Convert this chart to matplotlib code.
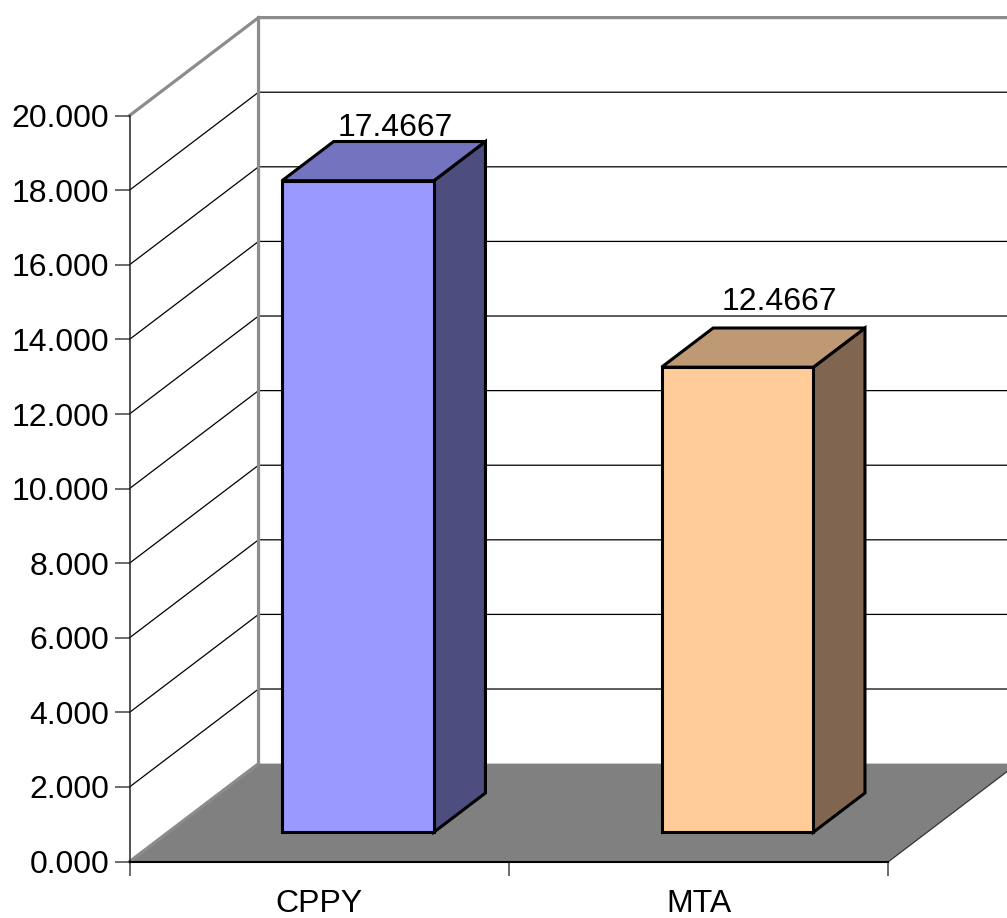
import matplotlib
matplotlib.use('Agg')
import matplotlib.pyplot as plt
from matplotlib.patches import Polygon

plt.rcParams['font.family'] = ['Liberation Sans', 'DejaVu Sans']

# Valores do grafico
categories = ['CPPY', 'MTA']
values = [17.4667, 12.4667]
value_labels = ['17.4667', '12.4667']
y_ticks = [0, 2, 4, 6, 8, 10, 12, 14, 16, 18, 20]

# Cores de cada barra: frente, topo, lado
front_colors = ['#9999FF', '#FFCC99']
top_colors = ['#7373BF', '#BF9973']
side_colors = ['#4D4D80', '#806650']

# Deslocamento obliquo da profundidade, em unidades dos eixos
depth_x = 0.34
depth_y = 2.627
bar_width = 0.4
bar_gap = 0.3
z_front = 0.3
z_back = 0.7
label_lift = [0.15, 0.47]
label_shift = [-0.037, -0.026]

WIDTH, HEIGHT = 1007, 918
x_origin = 129.5
y_origin = 861.6
px_x = 379.5
px_y = 37.3
FONT = 23.0


def project(x, y, z):
    return x + z * depth_x, y + z * depth_y


fig = plt.figure(figsize=(WIDTH / 100, HEIGHT / 100), dpi=100)
ax = fig.add_axes([0, 0, 1, 1])
ax.set_xlim(-x_origin / px_x, (WIDTH - x_origin) / px_x)
ax.set_ylim(-(HEIGHT - y_origin) / px_y, y_origin / px_y)
ax.patch.set_visible(False)

# Chao cinzento
n = len(categories)
floor = [project(0, 0, 0), project(n, 0, 0), project(n, 0, 1), project(0, 0, 1)]
ax.add_patch(Polygon(floor, closed=True, facecolor='#808080', edgecolor='none', zorder=1))
ax.plot([project(n, 0, 0)[0], project(n, 0, 1)[0]],
        [project(n, 0, 0)[1], project(n, 0, 1)[1]], color='#333333', lw=0.9, zorder=1.1)

# Linhas de grelha na parede lateral e na parede do fundo
for t in y_ticks[1:-1]:
    x0, y0 = project(0, t, 0)
    x1, y1 = project(0, t, 1)
    x2, y2 = project(n, t, 1)
    ax.plot([x0, x1, x2], [y0, y1, y1], color='black', lw=0.9, zorder=1.2)

# Contorno cinzento das paredes
x0, y0 = project(0, 0, 0)
x1, y1 = project(0, 0, 1)
x2, y2 = project(0, y_ticks[-1], 0)
x3, y3 = project(0, y_ticks[-1], 1)
x4, y4 = project(n, y_ticks[-1], 1)
ax.plot([x0, x1, x3, x4], [y0, y1, y3, y4], color='#8C8C8C', lw=2.3,
        solid_joinstyle='miter', zorder=1.3)
ax.plot([x2, x3], [y2, y3], color='#8C8C8C', lw=2.3, zorder=1.3)

# Barras em falso 3D
for i, v in enumerate(values):
    left = i + bar_gap
    right = left + bar_width
    front = [project(left, 0, z_front), project(right, 0, z_front),
             project(right, v, z_front), project(left, v, z_front)]
    top = [project(left, v, z_front), project(right, v, z_front),
           project(right, v, z_back), project(left, v, z_back)]
    side = [project(right, 0, z_front), project(right, 0, z_back),
            project(right, v, z_back), project(right, v, z_front)]
    for pts, col in ((side, side_colors[i]), (top, top_colors[i]), (front, front_colors[i])):
        ax.add_patch(Polygon(pts, closed=True, facecolor=col, edgecolor='black',
                             lw=2.2, joinstyle='miter', zorder=3))
    lx, ly = project(left + bar_width / 2, v + label_lift[i], z_back)
    ax.text(lx + label_shift[i], ly, value_labels[i], ha='center', va='baseline',
            fontsize=FONT, color='black', zorder=4)

# Eixos
for s in ('top', 'right'):
    ax.spines[s].set_visible(False)
ax.spines['left'].set_position(('data', 0))
ax.spines['left'].set_bounds(0, y_ticks[-1])
ax.spines['left'].set_color('#222222')
ax.spines['left'].set_linewidth(1.1)
ax.spines['bottom'].set_position(('data', 0))
ax.spines['bottom'].set_bounds(0, n)
ax.spines['bottom'].set_color('black')
ax.spines['bottom'].set_linewidth(1.5)

ax.set_yticks(y_ticks)
ax.set_yticklabels([f'{t:.3f}' for t in y_ticks])
ax.tick_params(axis='y', length=10.5, width=1.1, color='#444444', pad=4.0, labelsize=FONT)

ax.set_xticks(range(n + 1))
ax.set_xticklabels([])
ax.tick_params(axis='x', which='major', length=10, width=1.1, color='#444444')
ax.set_xticks([i + 0.5 for i in range(n)], minor=True)
ax.set_xticklabels(categories, minor=True)
ax.tick_params(axis='x', which='minor', length=0, pad=19.6, labelsize=FONT)

fig.savefig('out.png', dpi=100)
